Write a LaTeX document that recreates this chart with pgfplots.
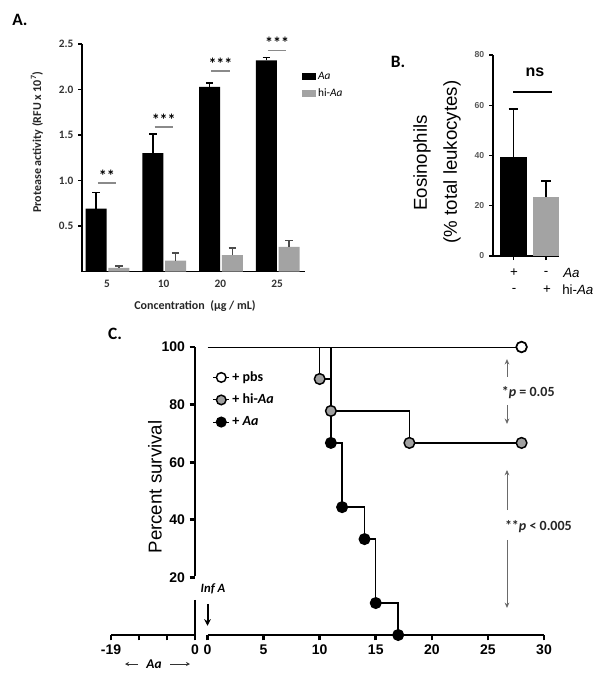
\documentclass[border=0pt]{standalone}
\usepackage{pgfplots}
\pgfplotsset{compat=1.18}
\usetikzlibrary{arrows.meta}
\usepackage{fontspec}
\setmainfont{Carlito}
\newfontfamily\arial{Liberation Sans}
\definecolor{bargray}{HTML}{A3A3A3}
\definecolor{mkgray}{HTML}{A0A0A0}
\definecolor{siggray}{HTML}{8A8A8A}
\definecolor{arrgray}{HTML}{6A6A6A}
\begin{document}
\begin{tikzpicture}
\useasboundingbox (0,0) rectangle (453pt,-507.75pt);

% ---------------- Panel A ----------------
\begin{axis}[
  at={(61.5pt,-203.625pt)}, anchor=south west, scale only axis,
  width=167.25pt, height=170.625pt,
  xmin=-0.44, xmax=3.49, ymin=0, ymax=2.5,
  axis x line*=bottom, axis y line*=left,
  axis line style={line width=1.3pt, black},
  xtick={0,1,2,3}, xticklabels={5,10,20,25},
  ytick={0.5,1,1.5,2,2.5}, yticklabels={0.5,1.0,1.5,2.0,2.5},
  xtick style={draw=none}, ytick style={line width=1pt, black},
  tick align=outside, major tick length=3pt,
  tick label style={font=\bfseries\fontsize{8.5}{9}\selectfont, text=black!80},
  clip=false,
  legend style={at={(rel axis cs:0.985,0.89)}, anchor=north west, draw=none, fill=none,
    font=\fontsize{8.5}{10}\selectfont, row sep=1.5pt, inner sep=0pt},
  legend cell align=left,
]
% Aa bars (x = group index - 0.19)
\addplot[forget plot, ybar, bar width=0.37, bar shift=0, fill=black, draw=none,
  error bars/.cd, y dir=plus, y explicit,
  error bar style={line width=1.2pt, black},
  error mark options={rotate=90, mark size=2.8pt, line width=1.2pt, black}]
  coordinates {(-0.19,0.69) +- (0,0.18) (0.81,1.30) +- (0,0.21) (1.81,2.03) +- (0,0.04) (2.81,2.32) +- (0,0.03)};
% hi-Aa bars (x = group index + 0.21)
\addplot[forget plot, ybar, bar width=0.37, bar shift=0, fill=bargray, draw=none,
  error bars/.cd, y dir=plus, y explicit,
  error bar style={line width=1.2pt, black!70},
  error mark options={rotate=90, mark size=2.8pt, line width=1.2pt, black!70}]
  coordinates {(0.21,0.04) +- (0,0.02) (1.21,0.12) +- (0,0.08) (2.21,0.18) +- (0,0.08) (3.21,0.27) +- (0,0.07)};
% significance lines
\addplot[forget plot, siggray, line width=1.2pt] coordinates {(-0.16,0.97) (0.16,0.97)};
\addplot[forget plot, siggray, line width=1.2pt] coordinates {(0.84,1.585) (1.16,1.585)};
\addplot[forget plot, siggray, line width=1.2pt] coordinates {(1.84,2.20) (2.16,2.20)};
\addplot[forget plot, siggray, line width=1.2pt] coordinates {(2.84,2.43) (3.16,2.43)};
\node[font=\bfseries\fontsize{12}{12}\selectfont] at (axis cs:0,1.05) {**};
\node[font=\bfseries\fontsize{12}{12}\selectfont] at (axis cs:1,1.665) {***};
\node[font=\bfseries\fontsize{12}{12}\selectfont] at (axis cs:2,2.28) {***};
\node[font=\bfseries\fontsize{12}{12}\selectfont] at (axis cs:3,2.51) {***};
\addlegendimage{legend image code/.code={\fill[black] (0pt,-2.2pt) rectangle (9.75pt,2.2pt);}}
\addlegendentry{\textit{Aa}}
\addlegendimage{legend image code/.code={\fill[bargray] (0pt,-2.2pt) rectangle (9.75pt,2.2pt);}}
\addlegendentry{hi-\textit{Aa}}
\end{axis}

% ---------------- Panel B ----------------
\begin{axis}[
  at={(369.75pt,-192pt)}, anchor=south west, scale only axis,
  width=49.5pt, height=150.75pt,
  xmin=-0.63, xmax=1.4, ymin=0, ymax=80,
  axis x line*=bottom, axis y line*=left,
  axis line style={line width=1.5pt, black},
  xtick={0,1}, xticklabels={},
  ytick={0,20,40,60,80}, yticklabels={0,20,40,60,80},
  tick style={line width=1pt, black},
  tick align=outside, major tick length=3pt,
  tick label style={font=\arial\bfseries\fontsize{6.5}{7}\selectfont, text=black!65},
  clip=false,
]
\addplot[forget plot, ybar, bar width=0.83, bar shift=0, fill=black, draw=none,
  error bars/.cd, y dir=plus, y explicit,
  error bar style={line width=1.4pt, black},
  error mark options={rotate=90, mark size=3.6pt, line width=1.4pt, black}]
  coordinates {(0,39.5) +- (0,19)};
\addplot[forget plot, ybar, bar width=0.83, bar shift=0, fill=bargray, draw=none,
  error bars/.cd, y dir=plus, y explicit,
  error bar style={line width=1.4pt, black},
  error mark options={rotate=90, mark size=3.6pt, line width=1.4pt, black}]
  coordinates {(1,23.4) +- (0,6.6)};
\addplot[forget plot, black, line width=1.5pt] coordinates {(0,65.3) (1.19,65.3)};
\node[font=\arial\bfseries\fontsize{12}{12}\selectfont] at (axis cs:0.66,73) {ns};
\end{axis}

% ---------------- Panel C (left segment) ----------------
\begin{axis}[
  at={(83.25pt,-476.25pt)}, anchor=south west, scale only axis,
  width=63pt, height=216pt,
  xmin=-19, xmax=0, ymin=0, ymax=100,
  axis x line*=bottom, axis y line=none,
  axis line style={line width=2.2pt, black},
  xtick={-19,-12.6667,-6.3333,0}, xticklabels={-19,,,0}, ytick=\empty,
  tick style={line width=2pt, black},
  tick align=outside, major tick length=4pt,
  tick label style={font=\arial\bfseries\fontsize{10.5}{12}\selectfont},
  clip=false,
]
\addplot[draw=none, forget plot] coordinates {(-10,50)};
\end{axis}

% ---------------- Panel C (main) ----------------
\begin{axis}[
  at={(146.25pt,-476.25pt)}, anchor=south west, scale only axis,
  width=261.75pt, height=216pt,
  xmin=-1.116, xmax=30, ymin=0, ymax=100,
  axis x line*=bottom, axis y line*=left,
  axis line style={draw=none},
  xtick={0,5,10,15,20,25,30}, xticklabels={0,5,10,15,20,25,30},
  ytick={20,40,60,80,100}, yticklabels={20,40,60,80,100},
  tick style={line width=2pt, black},
  tick align=outside, major tick length=4pt,
  tick label style={font=\arial\bfseries\fontsize{10.5}{12}\selectfont},
  clip=false,
  legend style={at={(rel axis cs:0.05,0.925)}, anchor=north west, draw=none, fill=none,
    font=\bfseries\fontsize{10.5}{11}\selectfont, row sep=4pt, inner sep=0pt},
  legend cell align=left,
  legend image code/.code={\draw[mark repeat=2,mark phase=2,#1] plot coordinates {(0pt,0pt) (6pt,0pt) (12pt,0pt)};},
]
% axis lines (broken y axis)
\draw[line width=2.2pt] (axis cs:0,0) -- (axis cs:30,0);
\draw[line width=2.2pt] (axis cs:-1.116,100) -- (axis cs:-1.116,20.5);
\draw[line width=2.2pt] (axis cs:-1.116,12.2) -- (axis cs:-1.116,0);
% survival curves
\addplot[forget plot, const plot, black, line width=0.6pt] coordinates {(0,100) (28,100)};
\addplot[forget plot, const plot, black, line width=1.1pt] coordinates {(10,100) (10,88.9) (11,77.8) (18,66.7) (28,66.7)};
\addplot[forget plot, const plot, black, line width=1.1pt] coordinates {(11,100) (11,66.7) (12,44.4) (14,33.3) (15,11.1) (17,0)};
\addplot[forget plot, only marks, mark=*, mark size=4pt, mark options={fill=black, draw=black, line width=1pt}]
  coordinates {(11,66.7) (12,44.4) (14,33.3) (15,11.1) (17,0)};
\addplot[forget plot, only marks, mark=*, mark size=4pt, mark options={fill=mkgray, draw=black, line width=1.1pt}]
  coordinates {(10,88.9) (11,77.8) (18,66.7) (28,66.7)};
\addplot[forget plot, only marks, mark=*, mark size=4pt, mark options={fill=white, draw=black, line width=1.3pt}]
  coordinates {(28,100)};
% legend
\addlegendimage{black, line width=0.8pt, mark=*, mark size=3.6pt, mark options={fill=white, line width=1.1pt}}
\addlegendentry{+ pbs}
\addlegendimage{black, line width=0.8pt, mark=*, mark size=3.6pt, mark options={fill=mkgray, line width=1.1pt}}
\addlegendentry{+ hi-\textit{Aa}}
\addlegendimage{black, line width=0.8pt, mark=*, mark size=3.6pt, mark options={fill=black, line width=1.1pt}}
\addlegendentry{+ \textit{Aa}}
% p-value annotations
\draw[arrgray, line width=0.7pt, -{Stealth[length=4pt,width=3.5pt]}] (axis cs:26.7,89.6) -- (axis cs:26.7,95.8);
\draw[arrgray, line width=0.7pt, -{Stealth[length=4pt,width=3.5pt]}] (axis cs:26.7,79.9) -- (axis cs:26.7,73.3);
\node[font=\bfseries\fontsize{10.5}{12}\selectfont, text=black!85] at (axis cs:28.6,84) {*\textit{p} = 0.05};
\draw[arrgray, line width=0.7pt, -{Stealth[length=4pt,width=3.5pt]}] (axis cs:26.7,43.4) -- (axis cs:26.7,57.3);
\draw[arrgray, line width=0.7pt, -{Stealth[length=4pt,width=3.5pt]}] (axis cs:26.7,33) -- (axis cs:26.7,9.4);
\node[font=\bfseries\fontsize{10.5}{12}\selectfont, text=black!85] at (axis cs:29.5,37.5) {**\textit{p} < 0.005};
% Inf A arrow
\draw[black, line width=1.5pt, -{Stealth[length=5pt,width=5pt]}] (axis cs:0,10.8) -- (axis cs:0,3.2);
\end{axis}

% ---------------- free text ----------------
\begin{scope}[x=0.75pt,y=-0.75pt]
\node[font=\bfseries\fontsize{13}{14}\selectfont] at (20,20) {A.};
\node[font=\bfseries\fontsize{13}{14}\selectfont] at (398,62) {B.};
\node[font=\bfseries\fontsize{13}{14}\selectfont] at (115,334) {C.};
\node[rotate=90, font=\bfseries\fontsize{9}{10}\selectfont, text=black!85] at (37,142) {Protease activity (RFU x 10\textsuperscript{7})};
\node[font=\bfseries\fontsize{9}{10}\selectfont, text=black!85] at (195,306) {Concentration\ \ (µg / mL)};
\node[rotate=90, font=\arial\fontsize{14}{16}\selectfont] at (422,163) {Eosinophils};
\node[rotate=90, font=\arial\fontsize{14}{16}\selectfont] at (452,162) {(\% total leukocytes)};
\node[font=\arial\fontsize{10}{11}\selectfont] at (514,273) {+};
\node[font=\arial\fontsize{10}{11}\selectfont] at (546,273) {-};
\node[font=\arial\itshape\fontsize{10}{11}\selectfont, anchor=west, inner sep=0pt] at (563,273) {Aa};
\node[font=\arial\fontsize{10}{11}\selectfont] at (514,290) {-};
\node[font=\arial\fontsize{10}{11}\selectfont] at (547,290) {+};
\node[font=\arial\fontsize{10}{11}\selectfont, anchor=west, inner sep=0pt] at (562,290) {hi-\textit{Aa}};
\node[rotate=90, font=\arial\fontsize{14}{16}\selectfont] at (155,487) {Percent survival};
\node[font=\bfseries\itshape\fontsize{9.5}{11}\selectfont] at (213,589) {Inf A};
\draw[black!80, line width=0.6pt, -{Stealth[length=3pt,width=3pt]}] (138,664) -- (125,664);
\node[font=\bfseries\itshape\fontsize{10}{11}\selectfont] at (154,664) {Aa};
\draw[black!80, line width=0.6pt, -{Stealth[length=3pt,width=3pt]}] (170,664) -- (190,664);
\end{scope}
\end{tikzpicture}
\end{document}
